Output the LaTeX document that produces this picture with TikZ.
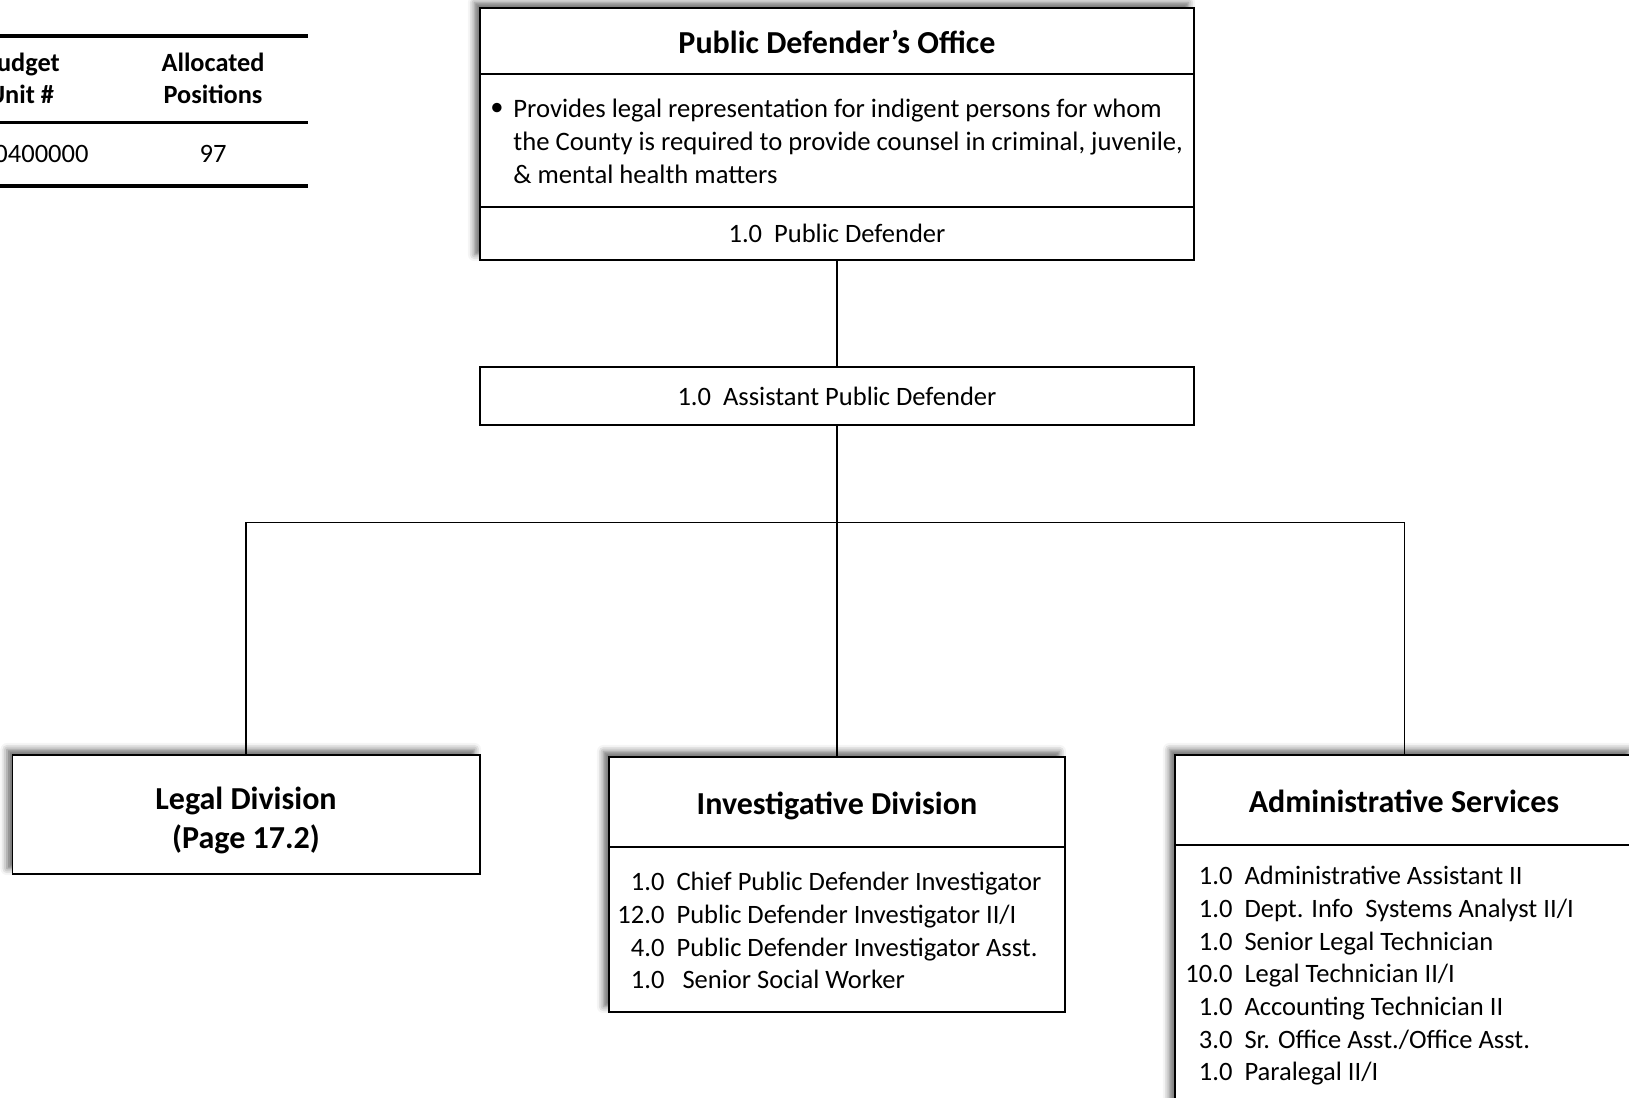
\documentclass[tikz,border=0pt]{standalone}
\usepackage{fontspec}
\setmainfont{Carlito}
\usetikzlibrary{fit,shadows.blur}
\begin{document}
\begin{tikzpicture}[x=0.456pt,y=-0.456pt,
 box/.style={draw=black,line width=0.7pt,fill=white,inner sep=0pt,rectangle},
 shad/.style={blur shadow={shadow xshift=-2.5pt,shadow yshift=2.5pt,shadow blur radius=3pt,shadow opacity=60}},
 ttl/.style={font=\fontsize{14.6}{17.8}\selectfont\bfseries,inner sep=0pt},
 hdr/.style={font=\fontsize{12}{14.4}\selectfont\bfseries,inner sep=0pt},
 txt/.style={font=\fontsize{12.1}{14.9}\selectfont,inner sep=0pt},
 lst/.style={font=\fontsize{12.1}{14.9}\selectfont,inner sep=0pt,anchor=north west},
 conn/.style={line width=0.7pt},
 rule/.style={line width=1.4pt}]
\useasboundingbox (0,0) rectangle (1629,1097);

% budget table
\draw[rule] (-10,36) -- (308,36);
\draw[rule] (-10,122.5) -- (308,122.5);
\draw[rule] (-10,186) -- (308,186);
\node[hdr,anchor=base] (bu1) at (21,71.5) {Budget};
\node[hdr,anchor=base] (bu2) at (21,103) {Unit \#};
\node[hdr,anchor=base] (al1) at (213,71.5) {Allocated};
\node[hdr,anchor=base] (al2) at (213,103) {Positions};
\node[txt,anchor=base east] (bun) at (89,162.5) {0400000};
\node[txt,anchor=base] (aln) at (213,162.5) {97};

% Public Defender's Office
\node[box,shad,fit={(480,8)(1194,260)}] (pdo) {};
\draw[conn] (480,74) -- (1194,74);
\draw[conn] (480,207) -- (1194,207);
\node[ttl,anchor=base] (pdot) at (837,53) {Public Defender’s Office};
\node[txt] (bul) at (497,109) {\textbullet};
\node[lst,align=left,font=\fontsize{12.15}{15.05}\selectfont] (pdod) at (513,94.4)
  {\strut Provides legal representation for indigent persons for whom\\
   the County is required to provide counsel in criminal, juvenile,\\
   \& mental health matters};
\node[txt,anchor=base] (pdt) at (837,242.5) {1.0\ \ Public Defender};

% Assistant Public Defender
\node[box,fit={(480,367)(1194,425)}] (apd) {};
\node[txt,anchor=base] (apdt) at (837,405.5) {1.0\ \ Assistant Public Defender};

% Legal Division
\node[box,shad,fit={(12.5,755)(480,874)}] (legal) {};
\node[ttl,align=center] (legalt) at (246,820) {Legal Division\\(Page 17.2)};

% Investigative Division
\node[box,shad,fit={(609,757)(1065,1012)}] (inv) {};
\draw[conn] (609,847) -- (1065,847);
\node[ttl,anchor=base] (invt) at (837,814) {Investigative Division};
\node[lst] (invl) at (617,867.6) {\begin{tabular}{@{}r@{\hspace{5.5pt}}l@{}}
1.0 & Chief Public Defender Investigator\\
12.0 & Public Defender Investigator II/I\\
4.0 & Public Defender Investigator Asst.\\
1.0 & \ Senior Social Worker
\end{tabular}};

% Administrative Services
\node[box,shad,fit={(1175,755)(1634,1110)}] (adm) {};
\draw[conn] (1175,845) -- (1634,845);
\node[ttl,anchor=base] (admt) at (1404,812) {Administrative Services};
\node[lst] (adml) at (1185,861.6) {\begin{tabular}{@{}r@{\hspace{5.5pt}}l@{}}
1.0 & Administrative Assistant II\\
1.0 & Dept. Info\ \ Systems Analyst II/I\\
1.0 & Senior Legal Technician\\
10.0 & Legal Technician II/I\\
1.0 & Accounting Technician II\\
3.0 & Sr. Office Asst./Office Asst.\\
1.0 & Paralegal II/I
\end{tabular}};

% connectors
\coordinate (j) at (837,522.6);
\draw[conn] (pdo.south) -- (apd.north);
\draw[conn] (apd.south) -- (inv.north);
\draw[conn] (legal.north) -- (legal.north |- j) -- (adm.north |- j) -- (adm.north);
\end{tikzpicture}
\end{document}
